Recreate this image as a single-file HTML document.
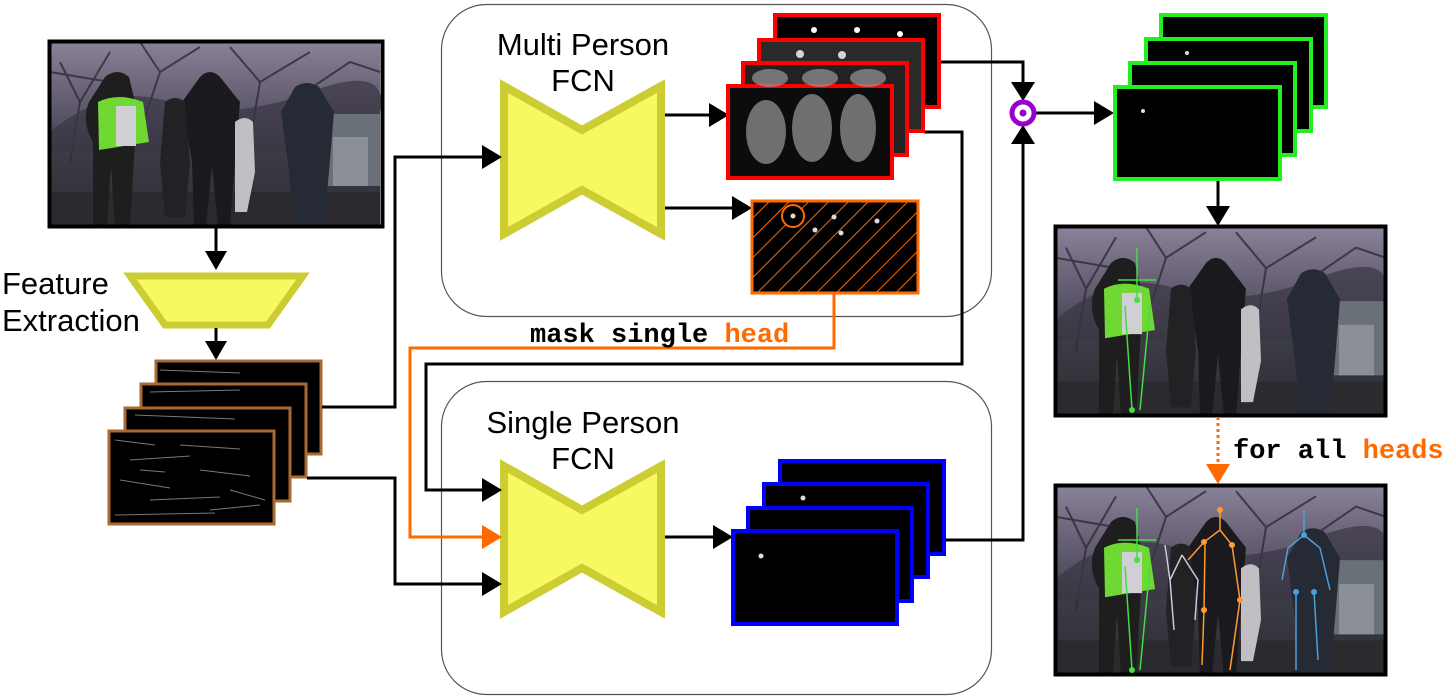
<!DOCTYPE html>
<html><head><style>html,body{margin:0;padding:0;background:#fff}svg{display:block}</style></head><body>
<svg width="1450" height="700" viewBox="0 0 1450 700" xmlns="http://www.w3.org/2000/svg">
<defs>
<linearGradient id="sky" x1="0" y1="0" x2="0" y2="1">
<stop offset="0" stop-color="#8a8298"/><stop offset="0.4" stop-color="#5a5468"/><stop offset="0.6" stop-color="#3c3c46"/><stop offset="1" stop-color="#2c2c32"/></linearGradient>
<pattern id="hatch" width="14" height="14" patternUnits="userSpaceOnUse" patternTransform="rotate(45)">
<rect width="14" height="14" fill="#000"/><line x1="0" y1="0" x2="0" y2="14" stroke="#ff6a00" stroke-width="2"/></pattern>
<g id="scene">
<rect width="330" height="184" fill="url(#sky)"/>
<g stroke="#2e2a36" stroke-width="2" fill="none" opacity="0.8">
<path d="M20 120 L30 60 L10 20 M30 60 L60 10 M90 90 L110 30 L150 5 M110 30 L90 0 M200 100 L210 40 L260 10 M210 40 L180 5 M240 60 L300 20 L330 30 M60 40 L0 30"/>
</g>
<path d="M0 90 Q60 40 120 60 T260 50 T330 70 V110 H0Z" fill="#3a3644" opacity="0.7"/>
<rect x="268" y="72" width="62" height="72" fill="#6a7078"/>
<rect x="283" y="95" width="35" height="49" fill="#8a9096"/>
<rect x="0" y="150" width="330" height="34" fill="#2a2a2f"/>
<path d="M55 35 q12-10 24 0 l6 25 q12 12 8 40 l-8 0 l-5 84 h-15 l-4-60 l-4 60 h-14 l0-84 q-12-20 -4-40z" fill="#1e1e1e"/>
<path d="M48 60 q20-10 45 0 l6 40 l-50 8z" fill="#6fd832"/>
<rect x="66" y="64" width="20" height="40" fill="#cfcfd4"/>
<path d="M150 35 q10-10 20 0 l20 25 l-5 60 l-5 64 h-12 l-6-60 l-6 60 h-12 l-2-64 l-10-60z" fill="#1a1a1e"/>
<path d="M115 60 q10-8 20 0 l5 60 l-5 55 h-20 l-5-55z" fill="#222224"/>
<path d="M185 80 q10-8 18 0 l2 50 l-8 40 h-12 z" fill="#bfbfc4"/>
<path d="M245 45 q12-8 24 0 l15 25 l-5 60 l-5 54 h-30 l-5-54 l-8-60z" fill="#262a34"/>
</g>
</defs>

<use href="#scene" x="50" y="42"/>
<rect x="49.5" y="41.5" width="333" height="185" fill="none" stroke="#000" stroke-width="4"/>
<line x1="216" y1="228" x2="216" y2="254" stroke="#000" stroke-width="3"/>
<polygon points="205,251 227,251 216,270" fill="#000"/>

<text x="2" y="294" font-family="Liberation Sans, sans-serif" font-size="31">Feature</text>
<text x="2" y="331" font-family="Liberation Sans, sans-serif" font-size="31">Extraction</text>
<polygon points="130,276 303,276 268,325 165,325" fill="#f8f860" stroke="#cccc33" stroke-width="7"/>
<line x1="216" y1="328" x2="216" y2="344" stroke="#000" stroke-width="3"/>
<polygon points="205,341 227,341 216,360" fill="#000"/>

<g stroke="#a86a30" stroke-width="3" fill="#000">
<rect x="156" y="361" width="165" height="93"/>
<rect x="141" y="384" width="165" height="93"/>
<rect x="125" y="408" width="165" height="93"/>
<rect x="109" y="431" width="165" height="93"/>
</g>
<g stroke="#ddd" stroke-width="1" opacity="0.55">
<path d="M115 440 l40 5 M130 460 l60 -4 M120 480 l50 8 M150 500 l70 -3 M200 470 l50 6 M115 515 l100 -2 M180 445 l60 4 M230 490 l35 10 M140 470 l25 2 M210 510 l50 -5 M160 370 l80 3 M150 392 l90 -2 M135 415 l100 4"/>
</g>

<rect x="441.5" y="4.5" width="550" height="312" rx="45" fill="none" stroke="#555" stroke-width="1.2"/>
<rect x="441.5" y="381.5" width="550" height="313" rx="45" fill="none" stroke="#555" stroke-width="1.2"/>
<g font-family="Liberation Sans, sans-serif" font-size="31" text-anchor="middle">
<text x="583" y="55">Multi Person</text><text x="583" y="91">FCN</text>
<text x="583" y="433">Single Person</text><text x="583" y="469">FCN</text>
</g>

<polygon points="504,86 582,130 661,86 661,234 582,190 504,234" fill="#f8f860" stroke="#cccc33" stroke-width="8"/>
<polygon points="504,466 582,510 661,466 661,612 582,568 504,612" fill="#f8f860" stroke="#cccc33" stroke-width="8"/>

<g fill="none" stroke-width="3">
<path d="M322 407 H395 V157 H485" stroke="#000"/>
<path d="M307 478 H395 V584 H485" stroke="#000"/>
<path d="M924 132 H962 V364 H426 V490 H485" stroke="#000"/>
<path d="M834 294 V348 H410 V537 H485" stroke="#ff6a00"/>
<path d="M665 115 H712" stroke="#000"/>
<path d="M665 208 H735" stroke="#000"/>
<path d="M665 537 H716" stroke="#000"/>
<path d="M940 62 H1023 V86" stroke="#000"/>
<path d="M945 540 H1023 V140" stroke="#000"/>
<path d="M1036 113 H1096" stroke="#000"/>
<path d="M1218 180 V208" stroke="#000"/>
</g>
<g fill="#000">
<polygon points="482,145 482,169 502,157"/>
<polygon points="482,572 482,596 502,584"/>
<polygon points="482,478 482,502 502,490"/>
<polygon points="709,103 709,127 729,115"/>
<polygon points="732,196 732,220 752,208"/>
<polygon points="713,525 713,549 733,537"/>
<polygon points="1011,82 1035,82 1023,101"/>
<polygon points="1011,144 1035,144 1023,125"/>
<polygon points="1094,101 1094,125 1114,113"/>
<polygon points="1206,206 1230,206 1218,226"/>
</g>
<polygon points="482,525 482,549 502,537" fill="#ff6a00"/>

<circle cx="1023" cy="113" r="11" fill="#fff" stroke="#9900cc" stroke-width="5"/>
<circle cx="1023" cy="113" r="3.5" fill="#9900cc"/>

<g stroke="#ff0000" stroke-width="4">
<rect x="775" y="15" width="164" height="92" fill="#000"/>
<rect x="759" y="40" width="164" height="91" fill="#2a2a2a"/>
<rect x="743" y="63" width="164" height="92" fill="#222"/>
<rect x="728" y="86" width="164" height="92" fill="#0c0c0c"/>
</g>
<g fill="#fff"><circle cx="814" cy="30" r="3"/><circle cx="857" cy="30" r="3"/><circle cx="900" cy="34" r="3"/>
<circle cx="800" cy="54" r="4" opacity=".8"/><circle cx="842" cy="55" r="4" opacity=".8"/></g>
<g fill="#999" opacity="0.7">
<ellipse cx="766" cy="132" rx="20" ry="32"/><ellipse cx="812" cy="128" rx="20" ry="34"/><ellipse cx="858" cy="128" rx="18" ry="34"/>
<ellipse cx="770" cy="78" rx="18" ry="9"/><ellipse cx="820" cy="78" rx="18" ry="9"/><ellipse cx="868" cy="78" rx="18" ry="9"/>
</g>

<rect x="752" y="201" width="166" height="92" fill="url(#hatch)" stroke="#ff6a00" stroke-width="3"/>
<circle cx="793" cy="216" r="11" fill="#000" stroke="#ff6a00" stroke-width="2"/>
<g fill="#ddd"><circle cx="793" cy="216" r="2.5"/><circle cx="834" cy="217" r="2.5"/><circle cx="815" cy="230" r="2.5"/><circle cx="841" cy="233" r="2.5"/><circle cx="877" cy="221" r="2.5"/></g>
<text x="530" y="342" font-family="Liberation Mono, monospace" font-weight="bold" font-size="27"><tspan fill="#000">mask single </tspan><tspan fill="#ff6a00">head</tspan></text>

<g stroke="#0000ff" stroke-width="4" fill="#000">
<rect x="780" y="461" width="164" height="93"/>
<rect x="764" y="484" width="164" height="93"/>
<rect x="748" y="508" width="164" height="93"/>
<rect x="733" y="531" width="164" height="93"/>
</g>
<g fill="#ddd"><circle cx="803" cy="498" r="2.5"/><circle cx="761" cy="556" r="2.5"/></g>

<g stroke="#22ee22" stroke-width="4" fill="#000">
<rect x="1161" y="15" width="165" height="92"/>
<rect x="1146" y="39" width="165" height="92"/>
<rect x="1130" y="63" width="165" height="92"/>
<rect x="1115" y="87" width="165" height="92"/>
</g>
<g fill="#ddd"><circle cx="1187" cy="53" r="2"/><circle cx="1143" cy="111" r="2"/></g>

<g transform="translate(1056,227) scale(1,1.03)"><use href="#scene"/></g>
<rect x="1055.5" y="226.5" width="330" height="189" fill="none" stroke="#000" stroke-width="4"/>
<g transform="translate(1056,486) scale(1,1.03)"><use href="#scene"/></g>
<rect x="1055.5" y="485.5" width="330" height="189" fill="none" stroke="#000" stroke-width="4"/>
<g fill="none" stroke-width="1.5">
<path d="M1137 248 V300 M1125 306 L1132 410 M1150 306 L1140 410 M1118 280 H1156" stroke="#44dd44"/>
<path d="M1137 508 V560 M1125 566 L1132 670 M1150 566 L1140 670 M1118 540 H1156" stroke="#44dd44"/>
<path d="M1220 508 V530 L1204 542 L1188 560 M1220 530 L1232 545 L1240 600 L1230 670 M1205 545 L1204 610 L1202 665" stroke="#ff9a30"/>
<path d="M1182 555 L1170 580 L1174 630 M1182 555 L1198 580 L1195 620 M1170 580 L1165 545" stroke="#c8c8e0"/>
<path d="M1304 510 V535 L1288 548 L1282 580 M1304 535 L1320 548 L1330 590 M1296 592 L1296 670 M1314 592 L1318 660" stroke="#4aa0dd"/>
</g>
<g fill="#ff9a30"><circle cx="1220" cy="510" r="3"/><circle cx="1204" cy="542" r="3"/><circle cx="1232" cy="545" r="3"/><circle cx="1240" cy="600" r="3"/><circle cx="1204" cy="610" r="3"/></g>
<g fill="#44dd44"><circle cx="1137" cy="300" r="3"/><circle cx="1132" cy="410" r="3"/><circle cx="1137" cy="560" r="3"/><circle cx="1132" cy="670" r="3"/></g>
<g fill="#4aa0dd"><circle cx="1304" cy="535" r="3"/><circle cx="1296" cy="592" r="3"/><circle cx="1314" cy="592" r="3"/></g>

<line x1="1218" y1="417" x2="1218" y2="466" stroke="#ff6a00" stroke-width="3" stroke-dasharray="3,3"/>
<polygon points="1206,464 1230,464 1218,484" fill="#ff6a00"/>
<text x="1233" y="458" font-family="Liberation Mono, monospace" font-weight="bold" font-size="27"><tspan fill="#000">for all </tspan><tspan fill="#ff6a00">heads</tspan></text>
</svg>
</body></html>
